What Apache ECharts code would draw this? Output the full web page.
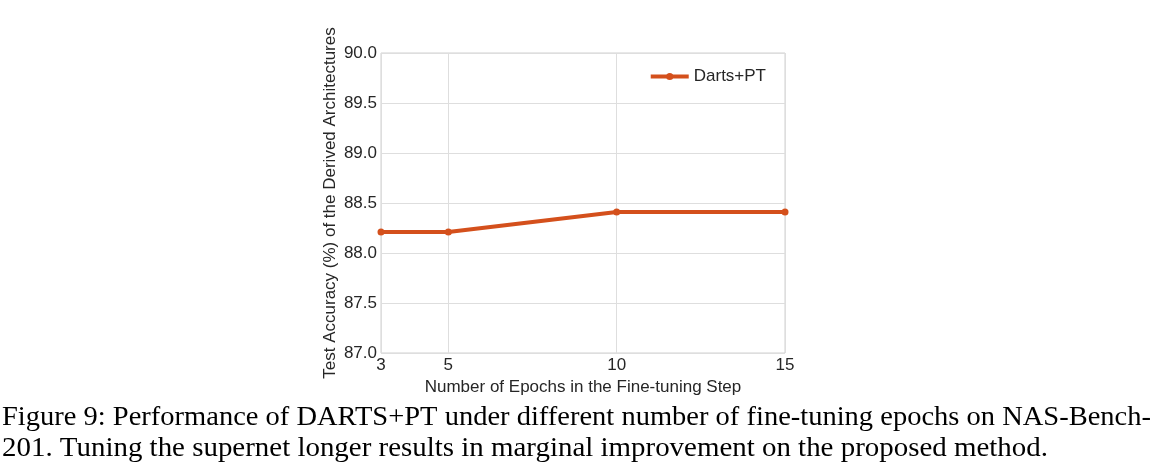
<!DOCTYPE html>
<html>
<head>
<meta charset="utf-8">
<script src="https://cdn.jsdelivr.net/npm/echarts@6/dist/echarts.min.js"></script>
<style>
  html, body { margin: 0; padding: 0; background: #fff; }
  #chart { width: 1155px; height: 466px; }
</style>
</head>
<body>
<div id="chart"></div>
<script>
// data
const epochs = [3, 5, 10, 15];
const accuracy = [88.21, 88.21, 88.41, 88.41];
const xTicks = [3, 5, 10, 15];
const seriesName = 'Darts+PT';
const captionLines = [
  'Figure 9: Performance of DARTS+PT under different number of fine-tuning epochs on NAS-Bench-',
  '201. Tuning the supernet longer results in marginal improvement on the proposed method.'
];

const chart = echarts.init(document.getElementById('chart'));

const axisFont = { fontFamily: 'Liberation Sans', fontSize: 17, color: '#262626' };

const option = {
  animation: false,
  backgroundColor: '#fff',
  grid: {
    left: 381, right: 370, top: 53, bottom: 113,
    show: true, borderColor: '#d0d0d0', borderWidth: 1
  },
  legend: {
    data: [seriesName],
    right: 384, top: 63,
    itemWidth: 38, itemHeight: 9, itemGap: 10,
    lineStyle: { width: 4 },
    textStyle: { fontFamily: 'Liberation Sans', fontSize: 17, color: '#262626' }
  },
  xAxis: {
    type: 'value',
    min: 3, max: 15,
    name: 'Number of Epochs in the Fine-tuning Step',
    nameLocation: 'middle', nameGap: 22,
    nameTextStyle: axisFont,
    axisLine: { show: false },
    axisTick: { show: false, customValues: xTicks },
    axisLabel: Object.assign({ customValues: xTicks, margin: 4 }, axisFont),
    splitLine: { show: true, lineStyle: { color: '#dedede', width: 1 } }
  },
  yAxis: {
    type: 'value',
    min: 87, max: 90, interval: 0.5,
    name: 'Test Accuracy (%) of the Derived Architectures',
    nameLocation: 'middle', nameGap: 42,
    nameTextStyle: axisFont,
    axisLine: { show: false },
    axisTick: { show: false },
    axisLabel: Object.assign({ margin: 4, formatter: v => v.toFixed(1) }, axisFont),
    splitLine: { show: true, lineStyle: { color: '#dedede', width: 1 } }
  },
  series: [{
    name: seriesName,
    type: 'line',
    data: epochs.map((e, i) => [e, accuracy[i]]),
    symbol: 'circle', symbolSize: 7,
    lineStyle: { color: '#d4501c', width: 4 },
    itemStyle: { color: '#d4501c' },
    clip: false
  }],
  graphic: [
    {
      type: 'text', x: 2, y: 404, scaleX: 1.018,
      style: { text: captionLines[0], fontFamily: 'Liberation Serif', fontSize: 28, fill: '#000' }
    },
    {
      type: 'text', x: 2, y: 435, scaleX: 1.033,
      style: { text: captionLines[1], fontFamily: 'Liberation Serif', fontSize: 28, fill: '#000' }
    }
  ]
};

chart.setOption(option);
</script>
</body>
</html>
